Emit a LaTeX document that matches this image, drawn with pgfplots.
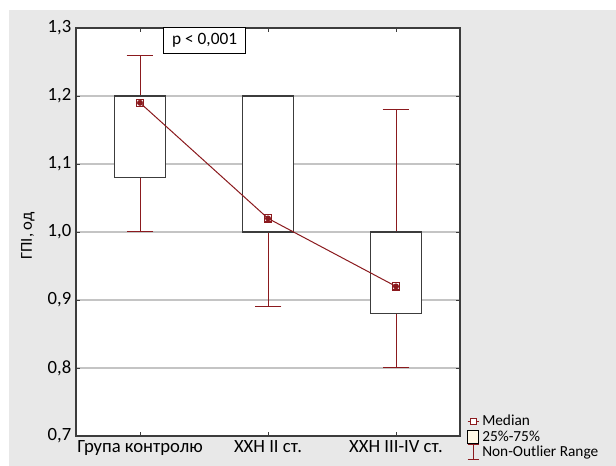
\documentclass[border=0pt]{standalone}
\usepackage{fontspec}
\setmainfont{Carlito}
\usepackage{pgfplots}
\pgfplotsset{compat=1.18}

\definecolor{darkred}{RGB}{139,26,30}
\definecolor{bggray}{RGB}{232,232,232}
\definecolor{gridgray}{RGB}{196,196,196}
\definecolor{axgray}{RGB}{60,60,60}
\definecolor{cream}{RGB}{255,248,230}

\begin{document}
\begin{tikzpicture}
% 1 px of the reference = 0.75pt
\useasboundingbox (0pt,0pt) rectangle (462pt,349.5pt);
\fill[bggray] (6.75pt,0pt) rectangle (462pt,342pt);

\begin{axis}[
  at={(57pt,22.5pt)}, anchor=south west,
  scale only axis,
  width=288pt, height=306pt,
  xmin=-0.5, xmax=2.5,
  ymin=0.7, ymax=1.3,
  xtick={0,1,2},
  xticklabels={Група контролю, ХХН ІІ ст., ХХН ІІІ-IV ст.},
  ytick={0.7,0.8,0.9,1.0,1.1,1.2,1.3},
  yticklabel style={/pgf/number format/.cd, fixed, fixed zerofill, precision=1, use comma},
  /pgf/number format/assume math mode=true,
  ticklabel style={font=\fontsize{14}{16}\selectfont},
  ylabel={ГПІ, од},
  ylabel style={at={(axis description cs:-0.125,0.49)}, anchor=center, font=\fontsize{12.5}{15}\selectfont},
  ymajorgrids, grid style={gridgray, line width=1pt},
  axis line style={axgray, line width=0.8pt},
  tick style={axgray, line width=0.6pt},
  major tick length=3pt,
  axis background/.style={fill=white},
  clip=false,
  legend cell align=left,
  legend style={at={(axis description cs:1.018,-0.062)}, anchor=south west,
    draw=none, fill=none, inner sep=0pt, row sep=-2pt,
    font=\fontsize{11.5}{13}\selectfont},
]

% non-outlier range (whiskers), drawn from the median
\addplot[forget plot, only marks, mark=none, darkred,
  error bars/.cd, y dir=both, y explicit,
  error bar style={darkred, line width=0.75pt},
  error mark options={rotate=90, darkred, line width=0.75pt, mark size=10pt}]
  coordinates {
  (0,1.19) += (0,0.07) -= (0,0.19)
  (1,1.02) += (0,0.18) -= (0,0.13)
  (2,0.92) += (0,0.26) -= (0,0.12)
  };

% 25%-75% boxes
\addplot[forget plot, draw=axgray, fill=white, line width=1.1pt]
  coordinates {(-0.2,1.08) (0.2,1.08) (0.2,1.2) (-0.2,1.2)} -- cycle;
\addplot[forget plot, draw=axgray, fill=white, line width=1.1pt]
  coordinates {(0.8,1.0) (1.2,1.0) (1.2,1.2) (0.8,1.2)} -- cycle;
\addplot[forget plot, draw=axgray, fill=white, line width=1.1pt]
  coordinates {(1.8,0.88) (2.2,0.88) (2.2,1.0) (1.8,1.0)} -- cycle;

% medians joined
\addplot[darkred, line width=0.75pt, mark=square, mark size=2.7pt,
  mark options={solid, line width=0.9pt, fill=white},
  legend image code/.code={
    \draw[darkred, line width=0.8pt] (0pt,0pt)--(8.5pt,0pt);
    \draw[darkred, line width=0.8pt, fill=white] (1.8pt,-2.3pt) rectangle (6.7pt,2.3pt);
  }] coordinates {(0,1.19) (1,1.02) (2,0.92)};
\addlegendentry{Median}

\addlegendimage{legend image code/.code={
  \draw[black, line width=0.7pt, fill=cream] (0pt,-5pt) rectangle (8pt,5pt);}}
\addlegendentry{25\%-75\%}

\addlegendimage{legend image code/.code={
  \draw[darkred, line width=0.8pt] (4.2pt,-5.5pt)--(4.2pt,5.5pt) (0pt,5.5pt)--(8.5pt,5.5pt) (0pt,-5.5pt)--(8.5pt,-5.5pt);}}
\addlegendentry{Non-Outlier Range}

\node[draw=black, fill=white, line width=0.8pt, minimum width=61.5pt, minimum height=19.5pt,
  inner sep=0pt, font=\fontsize{13}{15}\selectfont] at (axis cs:0.505,1.282) {p < 0,001};
\end{axis}
\end{tikzpicture}
\end{document}
